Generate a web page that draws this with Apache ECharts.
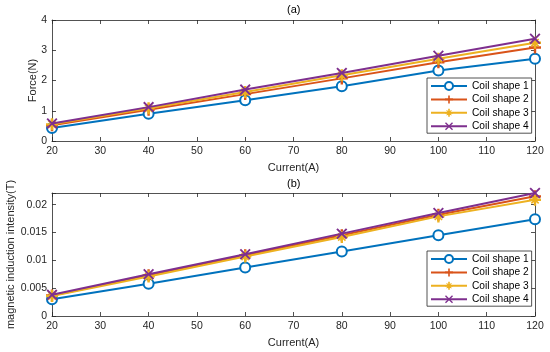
<!DOCTYPE html>
<html><head><meta charset="utf-8">
<script src="https://cdn.jsdelivr.net/npm/echarts@6/dist/echarts.min.js"></script>
<style>html,body{margin:0;padding:0;background:#fff}#c{width:550px;height:352px}</style>
</head><body><div id="c"></div>
<script>
const currents = [20, 40, 60, 80, 100, 120];
const seriesNames = ['Coil shape 1', 'Coil shape 2', 'Coil shape 3', 'Coil shape 4'];
// (a) Force (N)
const force1 = [0.43, 0.90, 1.35, 1.81, 2.33, 2.72];
const force2 = [0.52, 1.03, 1.55, 2.07, 2.60, 3.09];
const force3 = [0.55, 1.08, 1.62, 2.17, 2.72, 3.25];
const force4 = [0.58, 1.12, 1.70, 2.25, 2.82, 3.38];
// (b) magnetic induction intensity (T)
const mag1 = [0.0030, 0.0058, 0.0087, 0.0116, 0.0145, 0.0174];
const mag2 = [0.0037, 0.0073, 0.0109, 0.0145, 0.0182, 0.0215];
const mag3 = [0.0036, 0.0071, 0.0107, 0.0142, 0.0179, 0.0209];
const mag4 = [0.0038, 0.0075, 0.0111, 0.0148, 0.0185, 0.0221];

const colors = ['#0072BD', '#D95319', '#EDB120', '#7E2F8E'];
const PLUS = 'M4,0L6,0L6,4L10,4L10,6L6,6L6,10L4,10L4,6L0,6L0,4L4,4Z';
const XS = 'M0,1.2L1.2,0L5,3.8L8.8,0L10,1.2L6.2,5L10,8.8L8.8,10L5,6.2L1.2,10L0,8.8L3.8,5Z';
const XSMALL = 'M1.5,2.4L2.4,1.5L5,4.1L7.6,1.5L8.5,2.4L5.9,5L8.5,7.6L7.6,8.5L5,5.9L2.4,8.5L1.5,7.6L4.1,5Z';
const symbols = [
  'emptyCircle',
  'path://' + PLUS,
  'path://' + PLUS + XSMALL,
  'path://' + XS
];
const symSizes = [10, 12, 12, 11];
const FONT = 'Liberation Sans, Arial, sans-serif';
const axisCol = '#262626';
const lab = { color: axisCol, fontSize: 10.5, fontFamily: FONT };
const lineSt = { color: axisCol, width: 0.8 };

function xAxes(gi) {
  return [
    { type: 'value', gridIndex: gi, min: 20, max: 120, interval: 10, position: 'bottom',
      name: 'Current(A)', nameLocation: 'middle', nameGap: 21, nameMoveOverlap: false,
      nameTextStyle: { color: axisCol, fontSize: 11, fontFamily: FONT },
      axisLine: { onZero: false, lineStyle: lineSt },
      axisTick: { inside: true, length: 4, lineStyle: lineSt },
      axisLabel: Object.assign({ margin: 5 }, lab), splitLine: { show: false } },
    { type: 'value', gridIndex: gi, min: 20, max: 120, interval: 10, position: 'top',
      axisLine: { onZero: false, lineStyle: lineSt },
      axisTick: { inside: true, length: 4, lineStyle: lineSt },
      axisLabel: { show: false }, splitLine: { show: false } }
  ];
}
function yAxes(gi, max, interval, name, gap) {
  const fmt = v => (Math.abs(v / interval - Math.round(v / interval)) < 1e-6) ? String(+v.toFixed(4)) : '';
  return [
    { type: 'value', gridIndex: gi, min: 0, max: max, interval: interval, position: 'left',
      name: name, nameLocation: 'middle', nameGap: gap, nameMoveOverlap: false,
      nameTextStyle: { color: axisCol, fontSize: 11, fontFamily: FONT },
      axisLine: { show: true, onZero: false, lineStyle: lineSt },
      axisTick: { show: true, inside: true, length: 4, lineStyle: lineSt },
      axisLabel: Object.assign({ margin: 5, formatter: fmt }, lab), splitLine: { show: false } },
    { type: 'value', gridIndex: gi, min: 0, max: max, interval: interval, position: 'right',
      axisLine: { show: true, onZero: false, lineStyle: lineSt },
      axisTick: { show: true, inside: true, length: 4, lineStyle: lineSt },
      axisLabel: { show: false }, splitLine: { show: false } }
  ];
}
function mkSeries(datas, xi, yi) {
  return datas.map((d, i) => ({
    name: seriesNames[i], type: 'line', xAxisIndex: xi, yAxisIndex: yi,
    data: currents.map((c, k) => [c, d[k]]),
    symbol: symbols[i], symbolSize: symSizes[i], showSymbol: true,
    lineStyle: { color: colors[i], width: 2 },
    itemStyle: i === 0 ? { color: colors[i], borderColor: colors[i], borderWidth: 2 }
                       : { color: colors[i], borderWidth: 0 },
    emphasis: { disabled: true }, z: 2 + i
  }));
}
const legendCommon = {
  orient: 'vertical', itemWidth: 36, itemHeight: 10, itemGap: 3.4,
  backgroundColor: '#fff', borderColor: '#262626', borderWidth: 0.8, borderRadius: 0,
  padding: [3, 3, 2, 3],
  textStyle: { color: '#000', fontSize: 10.2, fontFamily: FONT },
  data: seriesNames, selectedMode: false
};

const chart = echarts.init(document.getElementById('c'), null, { renderer: 'canvas' });
chart.setOption({
  animation: false,
  color: colors,
  title: [
    { text: '(a)', left: 287, top: 4, padding: 0,
      textStyle: { fontSize: 11, fontWeight: 'normal', color: '#000', fontFamily: FONT } },
    { text: '(b)', left: 287, top: 178, padding: 0,
      textStyle: { fontSize: 11, fontWeight: 'normal', color: '#000', fontFamily: FONT } }
  ],
  grid: [
    { left: 52, right: 15, top: 20, height: 121, outerBoundsMode: 'none', containLabel: false },
    { left: 52, right: 15, top: 193, height: 123, outerBoundsMode: 'none', containLabel: false }
  ],
  xAxis: xAxes(0).concat(xAxes(1)),
  yAxis: yAxes(0, 4, 1, 'Force(N)', 14).concat(yAxes(1, 0.0221, 0.005, 'magnetic induction intensity(T)', 36)),
  legend: [
    Object.assign({ left: 427, top: 78 }, legendCommon),
    Object.assign({ left: 427, top: 251 }, legendCommon)
  ],
  series: mkSeries([force1, force2, force3, force4], 0, 0)
    .concat(mkSeries([mag1, mag2, mag3, mag4], 2, 2))
});
</script></body></html>
